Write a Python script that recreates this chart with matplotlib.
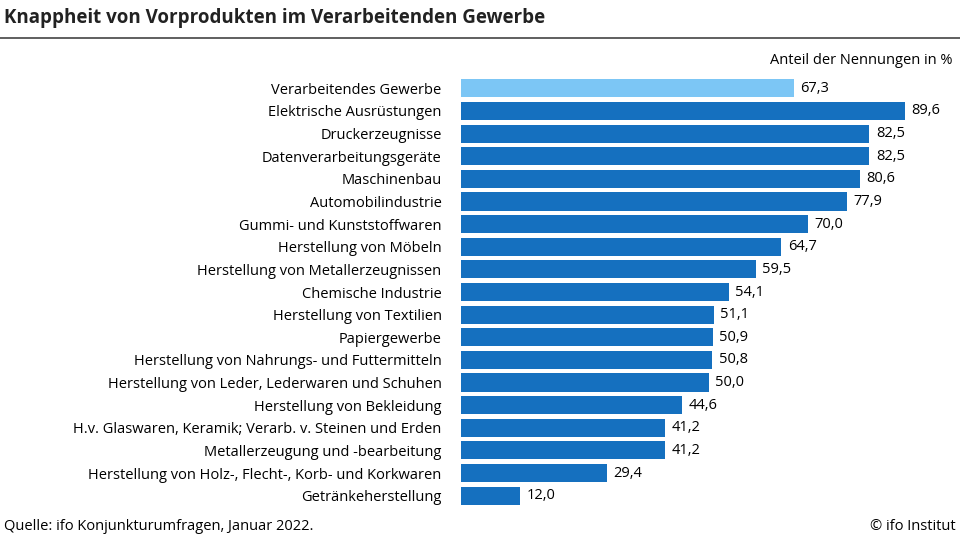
import matplotlib.pyplot as plt

plt.rcParams['font.family'] = ['Open Sans', 'DejaVu Sans']

categories = ["Verarbeitendes Gewerbe", "Elektrische Ausrüstungen", "Druckerzeugnisse",
              "Datenverarbeitungsgeräte", "Maschinenbau", "Automobilindustrie",
              "Gummi- und Kunststoffwaren", "Herstellung von Möbeln",
              "Herstellung von Metallerzeugnissen", "Chemische Industrie",
              "Herstellung von Textilien", "Papiergewerbe",
              "Herstellung von Nahrungs- und Futtermitteln",
              "Herstellung von Leder, Lederwaren und Schuhen",
              "Herstellung von Bekleidung",
              "H.v. Glaswaren, Keramik; Verarb. v. Steinen und Erden",
              "Metallerzeugung und -bearbeitung",
              "Herstellung von Holz-, Flecht-, Korb- und Korkwaren",
              "Getränkeherstellung"]
values = [67.3, 89.6, 82.5, 82.5, 80.6, 77.9, 70.0, 64.7, 59.5, 54.1,
          51.1, 50.9, 50.8, 50.0, 44.6, 41.2, 41.2, 29.4, 12.0]

fig = plt.figure(figsize=(9.6, 5.4), dpi=100)
ax = fig.add_axes([461/960, 1-507/540, 495/960, 430/540])
colors = ['#7cc6f5'] + ['#1570bf'] * (len(values) - 1)
y = range(len(values))
ax.barh(y, values, height=0.8, color=colors)
for i, v in enumerate(values):
    ax.text(v + 1.3, i, f"{v:.1f}".replace('.', ','), va='center', ha='left', fontsize=10.5)
ax.set_yticks(list(y))
ax.set_yticklabels(categories, fontsize=10.5)
ax.tick_params(axis='y', length=0, pad=14)
ax.set_xticks([])
ax.set_xlim(0, 100)
ax.set_ylim(len(values) - 0.5, -0.5)
for s in ax.spines.values():
    s.set_visible(False)

fig.text(4/960, 1-18/540, "Knappheit von Vorprodukten im Verarbeitenden Gewerbe",
         fontsize=13.5, fontweight='bold', va='center', ha='left', color='#222222')
fig.add_artist(plt.Line2D([0, 1], [1-38/540, 1-38/540], color='#444444', lw=1.2))
fig.text(953/960, 1-60/540, "Anteil der Nennungen in %", fontsize=10.5, ha='right', va='center')
fig.text(4/960, 1-526/540, "Quelle: ifo Konjunkturumfragen, Januar 2022.", fontsize=10.5, ha='left', va='center')
fig.text(956/960, 1-526/540, "© ifo Institut", fontsize=10.5, ha='right', va='center')

fig.savefig("out.png", dpi=100)
